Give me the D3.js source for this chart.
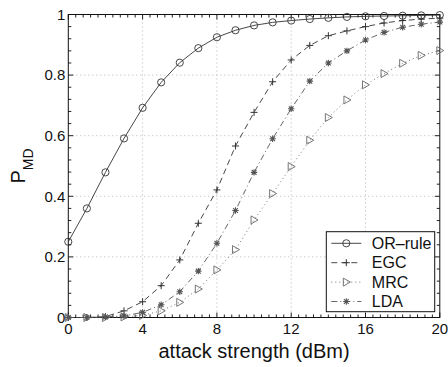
<!DOCTYPE html>
<html>
<head>
<meta charset="utf-8">
<script src="https://cdn.jsdelivr.net/npm/d3@7"></script>
<style>
  body { margin: 0; background: #fff; }
  text { font-family: "Liberation Sans", Arial, Helvetica, sans-serif; fill: #111; }
</style>
</head>
<body>
<div id="chart"></div>
<script>
// attack strength (dBm)
const attack = [0, 1, 2, 3, 4, 5, 6, 7, 8, 9, 10, 11, 12, 13, 14, 15, 16, 17, 18, 19, 20];
const orRule = [0.25, 0.36, 0.479, 0.591, 0.692, 0.776, 0.841, 0.889, 0.925, 0.948, 0.964, 0.974, 0.98, 0.985, 0.989, 0.992, 0.994, 0.995, 0.996, 0.997, 0.998];
const egc = [0, 0, 0.003, 0.022, 0.052, 0.105, 0.19, 0.311, 0.421, 0.566, 0.677, 0.778, 0.85, 0.898, 0.93, 0.946, 0.96, 0.972, 0.98, 0.985, 0.988];
const mrc = [0, 0, 0, 0.002, 0.007, 0.022, 0.05, 0.094, 0.157, 0.224, 0.322, 0.409, 0.498, 0.585, 0.66, 0.718, 0.768, 0.805, 0.839, 0.865, 0.881];
const lda = [0, 0, 0.002, 0.005, 0.017, 0.042, 0.085, 0.153, 0.245, 0.353, 0.479, 0.59, 0.689, 0.78, 0.84, 0.88, 0.916, 0.941, 0.958, 0.968, 0.975];
const xTicks = [0, 4, 8, 12, 16, 20];
const yTicks = [0, 0.2, 0.4, 0.6, 0.8, 1];
const seriesNames = ["OR–rule", "EGC", "MRC", "LDA"];

const fullWidth = 448, fullHeight = 367;
const margin = { top: 14.5, right: 8.2, bottom: 49.5, left: 68.3 };
const width = fullWidth - margin.left - margin.right;
const height = fullHeight - margin.top - margin.bottom;

const svg = d3.select("#chart").append("svg")
    .attr("width", fullWidth)
    .attr("height", fullHeight)
    .append("g")
    .attr("transform", `translate(${margin.left},${margin.top})`);

const x = d3.scaleLinear().domain([0, 20]).range([0, width]);
const y = d3.scaleLinear().domain([0, 1]).range([height, 0]);

// grid (dotted)
svg.append("g")
    .selectAll("line")
    .data(xTicks.slice(1, -1))
    .enter().append("line")
    .attr("x1", d => x(d)).attr("x2", d => x(d))
    .attr("y1", 0).attr("y2", height)
    .attr("stroke", "#b5b5b5").attr("stroke-width", 1)
    .attr("stroke-dasharray", "1,3");
svg.append("g")
    .selectAll("line")
    .data(yTicks.slice(1, -1))
    .enter().append("line")
    .attr("x1", 0).attr("x2", width)
    .attr("y1", d => y(d)).attr("y2", d => y(d))
    .attr("stroke", "#b5b5b5").attr("stroke-width", 1)
    .attr("stroke-dasharray", "1,3");

// minor + major ticks, inward on all four sides
const xMinor = d3.range(0, 20.001, 0.4);
const yMinor = d3.range(0, 1.0001, 0.04);
const tickG = svg.append("g").attr("stroke", "#222").attr("stroke-width", 1);
xMinor.forEach(v => {
    const isMajor = xTicks.some(t => Math.abs(t - v) < 1e-6);
    const len = isMajor ? 5 : 3;
    tickG.append("line").attr("x1", x(v)).attr("x2", x(v)).attr("y1", height).attr("y2", height - len);
    tickG.append("line").attr("x1", x(v)).attr("x2", x(v)).attr("y1", 0).attr("y2", len);
});
yMinor.forEach(v => {
    const isMajor = yTicks.some(t => Math.abs(t - v) < 1e-6);
    const len = isMajor ? 5 : 3;
    tickG.append("line").attr("y1", y(v)).attr("y2", y(v)).attr("x1", 0).attr("x2", len);
    tickG.append("line").attr("y1", y(v)).attr("y2", y(v)).attr("x1", width).attr("x2", width - len);
});

// frame
svg.append("rect")
    .attr("width", width).attr("height", height)
    .attr("fill", "none").attr("stroke", "#111").attr("stroke-width", 1);

// tick labels
svg.append("g").selectAll("text")
    .data(xTicks).enter().append("text")
    .attr("x", d => x(d)).attr("y", height + 16)
    .attr("text-anchor", "middle")
    .style("font-size", "15px")
    .text(d => d);
svg.append("g").selectAll("text")
    .data(yTicks).enter().append("text")
    .attr("x", -3).attr("y", d => y(d))
    .attr("dy", "0.35em")
    .attr("text-anchor", "end")
    .style("font-size", "15px")
    .text(d => d);

// axis titles
svg.append("text")
    .attr("x", width / 2).attr("y", height + 40)
    .attr("text-anchor", "middle")
    .style("font-size", "20px")
    .text("attack strength (dBm)");

const yl = svg.append("text")
    .attr("transform", `translate(${25 - margin.left},${height / 2}) rotate(-90)`)
    .attr("text-anchor", "middle")
    .style("font-size", "20px");
yl.append("tspan").text("P");
yl.append("tspan").attr("dy", 8).style("font-size", "14px").text("MD");

// series
const styles = [
    { data: orRule, color: "#333", dash: null, marker: "circle" },
    { data: egc, color: "#333", dash: "6,4", marker: "plus" },
    { data: mrc, color: "#666", dash: "1,3", marker: "tri" },
    { data: lda, color: "#555", dash: "6,3,1,3", marker: "star" }
];

function drawMarker(g, type, cx, cy, color) {
    if (type === "circle") {
        g.append("circle").attr("cx", cx).attr("cy", cy).attr("r", 3.6)
            .attr("fill", "none").attr("stroke", color).attr("stroke-width", 0.9);
    } else if (type === "plus") {
        g.append("path").attr("d", `M${cx - 3.5},${cy}H${cx + 3.5}M${cx},${cy - 3.5}V${cy + 3.5}`)
            .attr("stroke", color).attr("stroke-width", 1);
    } else if (type === "tri") {
        g.append("path").attr("d", `M${cx - 3},${cy - 4}L${cx + 4},${cy}L${cx - 3},${cy + 4}Z`)
            .attr("fill", "none").attr("stroke", color).attr("stroke-width", 0.9);
    } else {
        const r = 3.2, d = r * 0.75;
        g.append("path").attr("d", `M${cx - r},${cy}H${cx + r}M${cx},${cy - r}V${cy + r}M${cx - d},${cy - d}L${cx + d},${cy + d}M${cx - d},${cy + d}L${cx + d},${cy - d}`)
            .attr("stroke", color).attr("stroke-width", 1.1);
    }
}

const line = d3.line().x((d, i) => x(attack[i])).y(d => y(d));
styles.forEach(s => {
    const g = svg.append("g");
    g.append("path")
        .attr("d", line(s.data))
        .attr("fill", "none")
        .attr("stroke", s.color)
        .attr("stroke-width", 0.9)
        .attr("stroke-dasharray", s.dash);
    s.data.forEach((v, i) => drawMarker(g, s.marker, x(attack[i]), y(v), s.color));
});

// legend
const lx = 326.3 - margin.left, ly = 231.7 - margin.top;
const legend = svg.append("g").attr("transform", `translate(${lx},${ly})`);
legend.append("rect")
    .attr("width", 108.4).attr("height", 80)
    .attr("fill", "#fff").attr("stroke", "#111").attr("stroke-width", 1);
seriesNames.forEach((name, i) => {
    const s = styles[i];
    const ry = 11.6 + i * 19.4;
    legend.append("line")
        .attr("x1", 5).attr("x2", 35).attr("y1", ry).attr("y2", ry)
        .attr("stroke", s.color).attr("stroke-width", 0.9)
        .attr("stroke-dasharray", s.dash);
    drawMarker(legend, s.marker, 20, ry, s.color);
    legend.append("text")
        .attr("x", 45.5).attr("y", ry).attr("dy", "0.36em")
        .style("font-size", "16px")
        .text(name);
});
</script>
</body>
</html>
